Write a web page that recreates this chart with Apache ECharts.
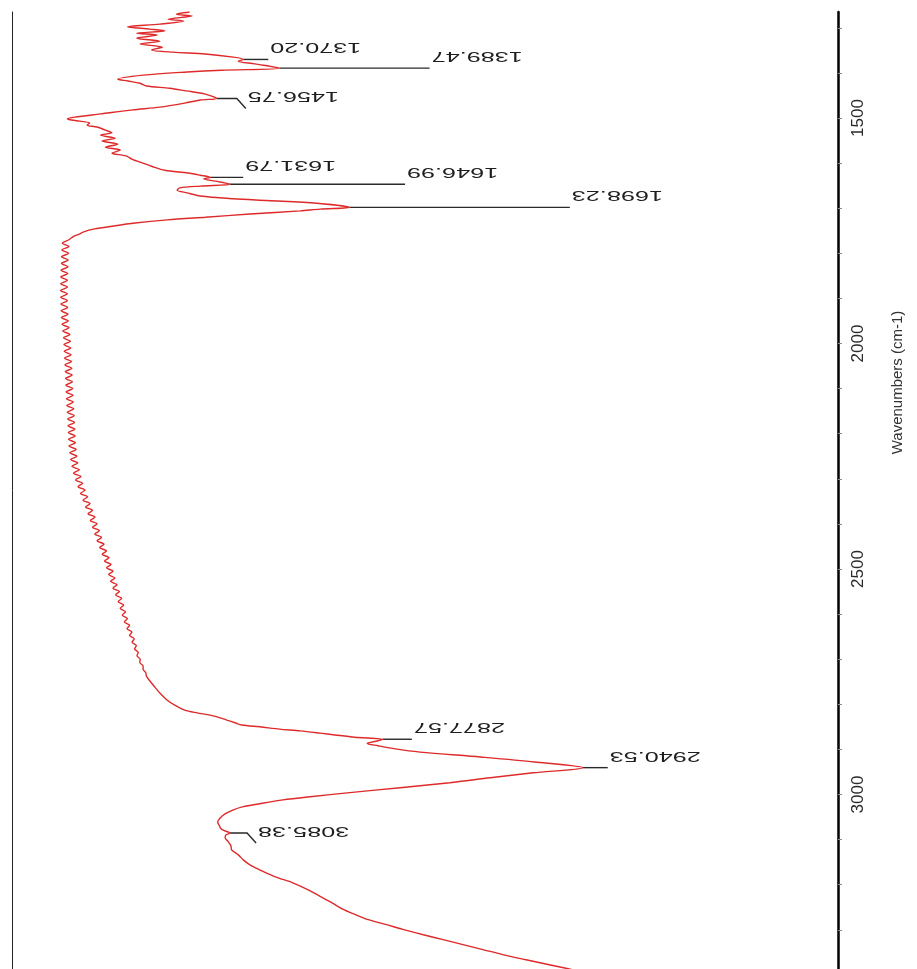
<!DOCTYPE html>
<html>
<head>
<meta charset="utf-8">
<title>IR spectrum</title>
<script src="https://cdn.jsdelivr.net/npm/echarts@6/dist/echarts.min.js"></script>
<style>
  html, body { margin: 0; padding: 0; background: #fff; }
  #chart { width: 917px; height: 969px; }
</style>
</head>
<body>
<div id="chart"></div>
<script>
// Fingerprint / carbonyl region (cm-1) and signal (a.u.)
const bandWavenumbers = [1265,1270,1274,1281,1285,1292,1298,1303,1307,1312,1316,1323,1330,1336,1343,1349,1354,1358,1365,1370.2,1374,1380,1389.47,1394,1398,1405,1414,1418,1423,1429,1434,1440,1447,1456.75,1460,1467,1476,1482,1491,1498,1502,1507,1511,1516,1520,1527,1533,1538,1545,1551,1558,1565,1571,1578,1584,1591,1598,1607,1616,1622,1627,1631.79,1635,1640,1646.99,1651,1655,1660,1666,1673,1679,1683,1689,1698.23,1702,1706,1713,1720,1726,1733,1740,1746,1753,1757,1762];
const bandSignal = [21.5,19.9,21.8,18.9,20.8,17.9,14.0,16.7,18.5,15.1,17.6,15.1,17.9,15.5,18.2,16.9,19.5,23.4,26.8,28.0,27.4,29.4,32.4,25.4,21.2,15.9,12.8,14.0,15.5,16.3,19.1,21.1,23.4,24.8,22.8,20.9,17.9,14.6,10.7,7.6,6.7,8.2,9.4,9.1,10.3,11.3,12.1,10.7,12.5,10.9,12.8,11.3,13.1,12.1,13.8,14.5,15.5,16.9,18.5,21.3,22.8,24.0,23.2,24.6,26.4,22.8,20.3,20.0,21.2,22.8,26.8,30.9,36.9,40.9,37.3,34.9,28.8,23.4,18.8,14.9,12.1,10.0,8.6,8.2,7.5];

// Interference-fringe baseline, sampled on a uniform 7.5 cm-1 grid
const fringeStart = 1770;
const fringeStep = 7.5;
const fringeSignal = [
  6.9,6.1,6.9,6.05,6.85,6.0,6.8,6.0,6.78,5.95,
  6.75,5.92,6.7,5.9,6.72,5.88,6.7,5.9,6.7,5.92,
  6.73,5.95,6.77,5.98,6.8,6.05,6.9,6.15,7.0,6.24,
  7.07,6.29,7.11,6.33,7.15,6.38,7.2,6.42,7.24,6.46,
  7.28,6.5,7.31,6.53,7.35,6.56,7.38,6.6,7.42,6.64,
  7.47,6.7,7.52,6.74,7.56,6.78,7.6,6.82,7.63,6.85,
  7.67,6.91,7.76,7.0,7.85,7.1,7.96,7.25,8.15,7.45,
  8.35,7.7,8.55,8.0,8.85,8.3,9.15,8.6,9.45,8.9,
  9.75,9.2,10.05,9.48,10.3,9.75,10.57,10.02,10.83,10.3,
  11.13,10.62,11.43,10.92,11.73,11.2,11.98,11.45,12.22,11.7,
  12.46,11.94,12.72,12.23,13.0,12.55,13.28,12.85,13.52,13.1,
  13.74,13.35,13.97,13.6,14.24,13.92,14.52,14.23,14.8,14.53,
  15.05,14.83,15.28,15.13,15.52,15.48,15.87,15.87,16.2,16.27,
  16.55
];

// C-H stretching region
const stretchWavenumbers = [2762,2775,2791,2802,2813,2819,2824,2830,2835,2841,2846,2850,2855,2859,2864,2868,2873,2877.57,2881,2887,2892,2899,2906,2917,2928,2940.53,2952,2963,2974,2985,2996,3005,3012,3021,3027,3034,3043,3052,3061,3069,3076,3081,3085.38,3090,3096,3105,3114,3123,3134,3145,3156,3167,3182,3196,3211,3226,3240,3255,3266,3277,3288,3299,3311,3322,3333,3344,3355,3366,3377,3386,3400];
const stretchSignal = [17.3,17.9,18.8,19.7,20.9,22.4,24.0,25.2,26.0,27.0,27.8,30.0,32.4,34.9,37.3,39.1,41.5,44.9,44.3,43.0,44.3,46.4,49.4,56.7,63.3,69.1,63.1,57.9,53.0,47.0,40.9,36.1,32.8,29.8,28.0,26.8,25.8,25.2,24.9,25.1,25.3,25.8,26.4,25.9,25.8,26.2,26.5,26.6,27.4,28.0,28.8,30.0,31.8,34.0,35.8,37.3,38.7,40.1,41.5,43.0,45.2,47.3,49.8,52.2,54.6,57.0,59.4,62.1,64.9,67.2,70.6];

// Picked peaks
const peakWavenumbers = [1370.20, 1389.47, 1456.75, 1631.79, 1646.99, 1698.23, 2877.57, 2940.53, 3085.38];
const peakSignal = [28.0, 32.4, 24.8, 24.0, 26.4, 40.9, 44.9, 69.1, 26.4];

// Axis ticks
const majorTicks = [1500, 2000, 2500, 3000];
const minorTicks = [1300,1400,1500,1600,1700,1800,1900,2000,2100,2200,2300,2400,2500,2600,2700,2800,2900,3000,3100,3200,3300];

// Peak-label leader layout (pixels) and whether the leader ends with a kink
const leaderLength = [25, 150, 20, 33, 175, 220, 29, 25, 17];
const leaderKink = [false, false, true, false, false, false, false, false, true];

const FONT = '"Liberation Sans", Arial, Helvetica, sans-serif';

const spectrum = [];
bandWavenumbers.forEach((w, i) => spectrum.push([bandSignal[i], w]));
fringeSignal.forEach((s, i) => spectrum.push([s, fringeStart + i * fringeStep]));
stretchWavenumbers.forEach((w, i) => spectrum.push([stretchSignal[i], w]));

const peaks = peakWavenumbers.map((w, i) => [peakSignal[i], w]);

function renderPeak(params, api) {
  const i = params.dataIndex;
  const p = api.coord([api.value(0), api.value(1)]);
  const x1 = p[0] + leaderLength[i];
  const pts = [[p[0], p[1]], [x1, p[1]]];
  let ex = x1, ey = p[1];
  if (leaderKink[i]) {
    ex = x1 + 9;
    ey = p[1] + 10;
    pts.push([ex, ey]);
  }
  return {
    type: 'group',
    children: [
      {
        type: 'polyline',
        shape: { points: pts },
        style: { stroke: '#2a2a2a', lineWidth: 1.4, fill: null }
      },
      {
        type: 'text',
        x: ex + 2,
        y: ey - 12,
        rotation: Math.PI,
        scaleX: 1.68,
        style: {
          text: peakWavenumbers[i].toFixed(2),
          fontFamily: FONT,
          fontSize: 15,
          fill: '#1e1e1e',
          align: 'right',
          verticalAlign: 'middle'
        }
      }
    ]
  };
}

const chart = echarts.init(document.getElementById('chart'), null, { renderer: 'canvas' });

chart.setOption({
  backgroundColor: '#ffffff',
  animation: false,
  grid: { left: 12, right: 79, top: 12, bottom: 0, containLabel: false },
  xAxis: {
    type: 'value',
    min: 0,
    max: 100,
    show: false
  },
  yAxis: [
    {
      type: 'value',
      position: 'right',
      inverse: true,
      min: 1265,
      max: 3387,
      name: 'Wavenumbers (cm-1)',
      nameLocation: 'middle',
      nameGap: 52,
      nameTextStyle: {
        fontFamily: FONT,
        fontSize: 15,
        color: '#333',
        padding: [0, 0, 0, 216]
      },
      axisLine: { show: true, onZero: false, lineStyle: { color: '#000', width: 2.5 } },
      axisTick: {
        show: true,
        length: 4,
        customValues: minorTicks,
        lineStyle: { color: '#8a8a8a', width: 1 }
      },
      axisLabel: {
        show: true,
        rotate: 90,
        margin: 12,
        customValues: majorTicks,
        formatter: (v) => String(v),
        fontFamily: FONT,
        fontSize: 17,
        color: '#2a2a2a'
      },
      splitLine: { show: false }
    },
    {
      type: 'value',
      position: 'left',
      inverse: true,
      min: 1265,
      max: 3387,
      axisLine: { show: true, onZero: false, lineStyle: { color: '#222', width: 1 } },
      axisTick: { show: false },
      axisLabel: { show: false },
      splitLine: { show: false }
    }
  ],
  series: [
    {
      type: 'line',
      name: 'spectrum',
      data: spectrum,
      xAxisIndex: 0,
      yAxisIndex: 0,
      showSymbol: false,
      symbol: 'none',
      smooth: 0.3,
      clip: true,
      lineStyle: { color: '#de2a2a', width: 1.4 }
    },
    {
      type: 'custom',
      name: 'peaks',
      data: peaks,
      xAxisIndex: 0,
      yAxisIndex: 0,
      encode: { x: 0, y: 1 },
      renderItem: renderPeak,
      clip: false,
      z: 3
    }
  ]
});
</script>
</body>
</html>
